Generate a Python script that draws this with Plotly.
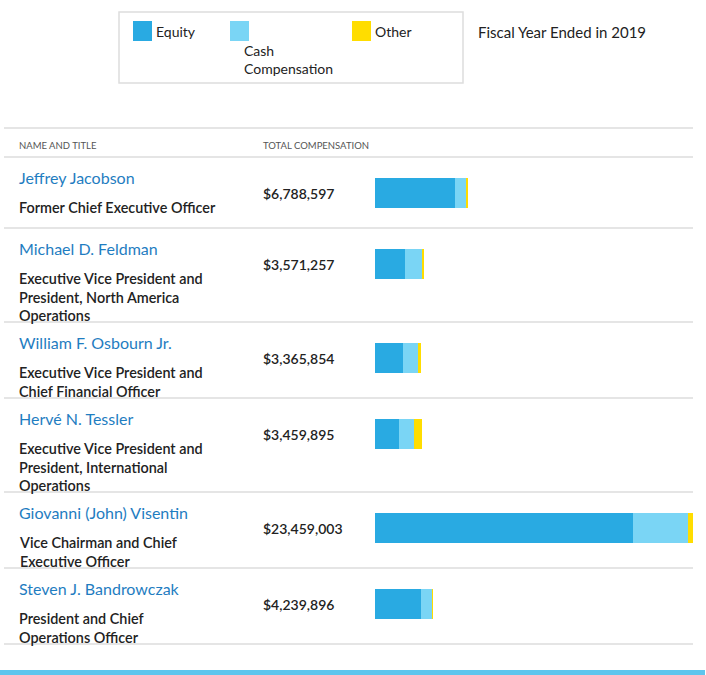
import plotly.graph_objects as go

# data
names = ["Jeffrey Jacobson", "Michael D. Feldman", "William F. Osbourn Jr.",
         "Hervé N. Tessler", "Giovanni (John) Visentin", "Steven J. Bandrowczak"]
titles = ["Former Chief Executive Officer",
          "Executive Vice President and<br>President, North America<br>Operations",
          "Executive Vice President and<br>Chief Financial Officer",
          "Executive Vice President and<br>President, International<br>Operations",
          "Vice Chairman and Chief<br>Executive Officer",
          "President and Chief<br>Operations Officer"]
totals = [6788597, 3571257, 3365854, 3459895, 23459003, 4239896]
equity = [5900000, 2240000, 2040000, 1770000, 19030000, 3390000]
cash = [880000, 1290000, 1130000, 1130000, 4080000, 840000]
other = [8597, 41257, 195854, 559895, 349003, 9896]

series = ["Equity", "Cash<br>Compensation", "Other"]
colors = ["#29aae2", "#7ad5f5", "#ffdd00"]

W, H = 706, 675
FONT = "Lato"
DARK = "#222222"
BLUE = "#1f7dc1"

# row layout (pixels from top), grows with the number of title lines
row_tops = []
top = 157
for t in titles:
    row_tops.append(top)
    n = t.count("<br>") + 1
    top += max(71, 40 + 18 * n)
row_bottom = top
bar_centers = [r + 36 for r in row_tops]

fig = go.Figure()
for name, vals, col in zip(series, [equity, cash, other], colors):
    fig.add_trace(go.Bar(
        y=bar_centers, x=vals, orientation="h", width=30,
        marker=dict(color=col, line=dict(width=0)),
        name=name.replace("<br>", " "), customdata=names,
        hovertemplate="%{customdata}<br>%{x:$,.0f}<extra>" + name.replace("<br>", " ") + "</extra>",
    ))

ann = []
shapes = []


def px(x):
    return x / W


# legend box
shapes.append(dict(type="rect", xref="paper", yref="y", x0=px(119), x1=px(463), y0=12, y1=83,
                   line=dict(color="#dddddd", width=1.5), fillcolor="white", layer="below"))
leg_x = [133, 230, 352]
for lx, col, s in zip(leg_x, colors, series):
    shapes.append(dict(type="rect", xref="paper", yref="y", x0=px(lx), x1=px(lx + 19), y0=21, y1=41,
                       fillcolor=col, line=dict(width=0)))
ann.append(dict(text="Equity", x=px(154), y=31, xanchor="left"))
ann.append(dict(text="Cash<br>Compensation", x=px(242), y=40, xanchor="left", yanchor="top", align="left"))
ann.append(dict(text="Other", x=px(373), y=31, xanchor="left"))
ann.append(dict(text="Fiscal Year Ended in 2019", x=px(476), y=32, xanchor="left",
                font=dict(size=15, color=DARK, family=FONT)))

# header
ann.append(dict(text="NAME AND TITLE", x=px(17), y=145, xanchor="left",
                font=dict(size=9.5, color="#555555", family=FONT)))
ann.append(dict(text="TOTAL COMPENSATION", x=px(261), y=145, xanchor="left",
                font=dict(size=9.5, color="#555555", family=FONT)))

# separators
for yy in [128] + row_tops + [row_bottom]:
    shapes.append(dict(type="line", xref="paper", yref="y", x0=px(4), x1=px(693), y0=yy, y1=yy,
                       line=dict(color="#dddddd", width=1.5)))

# rows of text
for name, title, tot, rt, bc in zip(names, titles, totals, row_tops, bar_centers):
    ann.append(dict(text=name, x=px(17), y=rt + 20, xanchor="left",
                    font=dict(size=16, color=BLUE, family=FONT)))
    ann.append(dict(text=title, x=px(17), y=rt + 40,
                    xanchor="left", yanchor="top", align="left",
                    font=dict(size=14.4, color=DARK, family=FONT, weight=600)))
    ann.append(dict(text="${:,}".format(tot), x=px(261), y=bc, xanchor="left",
                    font=dict(size=14, color=DARK, family=FONT, weight=600)))

# bottom accent bar
shapes.append(dict(type="rect", xref="paper", yref="y", x0=0, x1=px(705), y0=670, y1=676,
                   fillcolor="#5ec5ed", line=dict(width=0)))

for a in ann:
    a.setdefault("xref", "paper")
    a.setdefault("yref", "y")
    a.setdefault("showarrow", False)
    a.setdefault("yanchor", "middle")
    a.setdefault("font", dict(size=14, color=DARK, family=FONT))

fig.update_layout(
    width=W, height=H, margin=dict(l=0, r=0, t=0, b=0),
    barmode="stack", showlegend=False,
    plot_bgcolor="white", paper_bgcolor="white",
    font=dict(family=FONT, color=DARK),
    xaxis=dict(domain=[px(375), px(693)], range=[0, max(totals)], visible=False, fixedrange=True),
    yaxis=dict(domain=[0, 1], range=[H, 0], visible=False, fixedrange=True),
    annotations=ann, shapes=shapes,
)

fig.write_html("out.html", config={"displayModeBar": False},
               post_script="document.body.style.margin='0';document.body.style.overflow='hidden';")
